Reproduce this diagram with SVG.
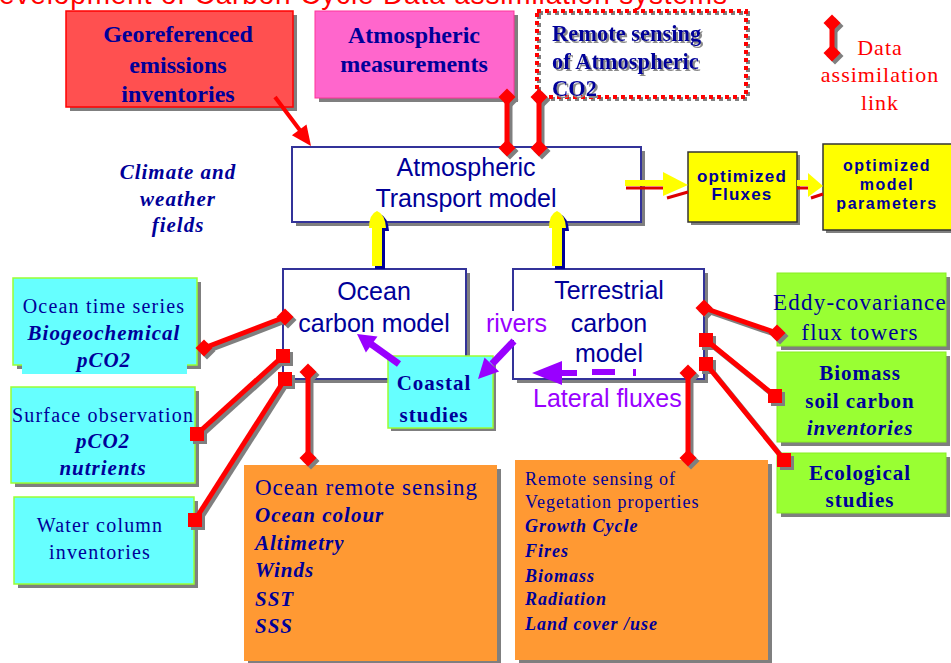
<svg xmlns="http://www.w3.org/2000/svg" width="951" height="663" viewBox="0 0 951 663">
<style>
.sh{fill:#7f7f7f}
.t{fill:#000099;font-family:"Liberation Serif","Times New Roman",serif}
.s{fill:#000099;font-family:"Liberation Sans",Arial,sans-serif}
.b{font-weight:bold}
.i{font-style:italic}
.m{text-anchor:middle}
.wb{fill:#fff;stroke:#333399;stroke-width:2}
.cy{fill:#66ffff;stroke:#99ff33;stroke-width:1.5}
.gr{fill:#99ff33;stroke:#88ee22;stroke-width:1}
.or{fill:#ff9933}
.ye{fill:#ffff00;stroke:#333;stroke-width:1.5}
.pu{fill:#9900ff}
.lk{stroke:#ff0000;stroke-width:5;fill:none}
.lks{stroke:#7f7f7f;stroke-width:5;fill:none}
.d{marker-start:url(#dia);marker-end:url(#dia)}
.ds{marker-start:url(#dias);marker-end:url(#dias)}
.q{marker-start:url(#sq);marker-end:url(#sq)}
.qs{marker-start:url(#sqs);marker-end:url(#sqs)}
.c1{font-size:20px;letter-spacing:1.2px}
.c2{font-size:21px;letter-spacing:1px;font-weight:bold;font-style:italic}
.op{font-size:17px;letter-spacing:1.2px}
.op2{font-size:16px;letter-spacing:1.5px}
</style>
<defs>
<filter id="tsh" x="-5%" y="-5%" width="115%" height="130%"><feDropShadow dx="2" dy="2" stdDeviation="0" flood-color="#8a8a8a"/></filter>
<marker id="dia" viewBox="-9 -9 18 18" refX="0" refY="0" markerWidth="18" markerHeight="18" markerUnits="userSpaceOnUse"><path d="M0,-8.5L8.5,0L0,8.5L-8.5,0Z" fill="#ff0000"/></marker>
<marker id="dias" viewBox="-9 -9 18 18" refX="0" refY="0" markerWidth="18" markerHeight="18" markerUnits="userSpaceOnUse"><path d="M0,-8.5L8.5,0L0,8.5L-8.5,0Z" fill="#7f7f7f"/></marker>
<marker id="sq" viewBox="-8 -8 16 16" refX="0" refY="0" markerWidth="16" markerHeight="16" markerUnits="userSpaceOnUse"><rect x="-7" y="-7" width="14" height="14" fill="#ff0000"/></marker>
<marker id="sqs" viewBox="-8 -8 16 16" refX="0" refY="0" markerWidth="16" markerHeight="16" markerUnits="userSpaceOnUse"><rect x="-7" y="-7" width="14" height="14" fill="#7f7f7f"/></marker>
</defs>
<rect width="951" height="663" fill="#fff"/>

<text id="title" x="-22" y="4" font-family="Liberation Sans, Arial, sans-serif" font-size="28" textLength="749" lengthAdjust="spacing" fill="#ff0000">Development of Carbon Cycle Data assimilation systems</text>

<g id="georef">
<rect class="sh" x="70" y="15" width="227" height="96"/>
<rect x="66" y="11" width="227" height="96" fill="#ff5050" stroke="#ff0000" stroke-width="1.5"/>
<text class="t b m" font-size="24" x="178"><tspan x="178" y="42">Georeferenced</tspan><tspan x="178" y="73">emissions</tspan><tspan x="178" y="102">inventories</tspan></text>
</g>
<g id="atmmeas">
<rect class="sh" x="319" y="15" width="199" height="87"/>
<rect x="315" y="11" width="199" height="87" fill="#ff66cc" stroke="#ff3399" stroke-width="1"/>
<text class="t b m" font-size="24"><tspan x="414" y="43">Atmospheric</tspan><tspan x="414" y="72">measurements</tspan></text>
</g>
<g id="rsatm">
<rect x="539" y="13" width="209" height="86" fill="none" stroke="#7f7f7f" stroke-width="4" stroke-dasharray="4 4"/>
<rect x="537" y="11" width="209" height="86" fill="none" stroke="#ff0000" stroke-width="4" stroke-dasharray="4 4"/>
<text class="t b" font-size="22.5" filter="url(#tsh)"><tspan x="552" y="41">Remote sensing</tspan><tspan x="552" y="69">of Atmospheric</tspan><tspan x="552" y="96">CO2</tspan></text>
</g>
<g id="legend">
<text class="t m" font-size="22" letter-spacing="1" style="fill:#ff0000"><tspan x="880" y="55">Data</tspan><tspan x="880" y="82">assimilation</tspan><tspan x="880" y="110">link</tspan></text>
</g>
<g id="climate">
<text class="t b i m" font-size="21" letter-spacing="1"><tspan x="178" y="179">Climate and</tspan><tspan x="178" y="206">weather</tspan><tspan x="178" y="232">fields</tspan></text>
</g>
<g id="transport">
<rect class="sh" x="296" y="151" width="349" height="75"/>
<rect class="wb" x="292" y="147" width="349" height="75"/>
<text class="s m" font-size="25"><tspan x="466" y="176">Atmospheric</tspan><tspan x="466" y="207">Transport model</tspan></text>
</g>
<g id="optfluxes">
<rect class="sh" x="691" y="155" width="109" height="70"/>
<rect class="ye" x="688" y="152" width="109" height="70"/>
<text class="s b m op"><tspan x="742" y="182">optimized</tspan><tspan x="742" y="200">Fluxes</tspan></text>
</g>
<g id="optparams">
<rect class="sh" x="826" y="147" width="130" height="86"/>
<rect class="ye" x="823" y="144" width="130" height="86"/>
<text class="s b m op2"><tspan x="887" y="171">optimized</tspan><tspan x="887" y="190">model</tspan><tspan x="887" y="209">parameters</tspan></text>
</g>
<g id="ocean">
<rect class="sh" x="287" y="273" width="183" height="110"/>
<rect class="wb" x="283" y="269" width="183" height="110"/>
<text class="s m" font-size="25"><tspan x="374" y="300">Ocean</tspan><tspan x="374" y="332">carbon model</tspan></text>
</g>
<g id="terrestrial">
<rect class="sh" x="517" y="273" width="191" height="110"/>
<rect class="wb" x="513" y="269" width="191" height="110"/>
<text class="s m" font-size="25"><tspan x="609" y="299">Terrestrial</tspan><tspan x="609" y="332">carbon</tspan><tspan x="609" y="362">model</tspan></text>
</g>
<g id="rivers">
<rect x="484" y="311" width="67" height="29" fill="#fff"/>
<text class="s" font-size="25" x="486" y="332" style="fill:#9900ff">rivers</text>
</g>
<g id="lateral">
<text class="s" font-size="25" x="533" y="407" style="fill:#9900ff">Lateral fluxes</text>
</g>
<g id="coastal">
<rect class="sh" x="391" y="359" width="105" height="72"/>
<rect class="cy" x="388" y="356" width="105" height="72"/>
<text class="t b m" font-size="21" letter-spacing="1"><tspan x="434" y="390">Coastal</tspan><tspan x="434" y="422">studies</tspan></text>
</g>
<g id="oceants">
<rect class="sh" x="17" y="282" width="184" height="87"/>
<rect class="cy" x="13" y="278" width="184" height="87"/>
<rect x="22" y="364" width="165" height="10" fill="#66ffff"/>
<text class="t m"><tspan class="c1" x="104" y="313">Ocean time series</tspan><tspan class="c2" x="104" y="340">Biogeochemical</tspan><tspan class="c2" x="104" y="367">pCO2</tspan></text>
</g>
<g id="surfobs">
<rect class="sh" x="15" y="391" width="184" height="96"/>
<rect class="cy" x="11" y="387" width="184" height="96"/>
<text class="t m"><tspan class="c1" x="103" y="422">Surface observation</tspan><tspan class="c2" x="103" y="448">pCO2</tspan><tspan class="c2" x="103" y="475">nutrients</tspan></text>
</g>
<g id="watercol">
<rect class="sh" x="18" y="501" width="180" height="87"/>
<rect class="cy" x="14" y="497" width="180" height="87"/>
<text class="t m c1"><tspan x="100" y="532">Water column</tspan><tspan x="100" y="559">inventories</tspan></text>
</g>
<g id="oceanrs">
<rect class="sh" x="248" y="469" width="253" height="196"/>
<rect class="or" x="244" y="465" width="253" height="196"/>
<text class="t"><tspan x="255" y="495" font-size="23" letter-spacing="1">Ocean remote sensing</tspan><tspan class="c2" x="255" y="522">Ocean colour</tspan><tspan class="c2" x="255" y="550">Altimetry</tspan><tspan class="c2" x="255" y="577">Winds</tspan><tspan class="c2" x="255" y="606">SST</tspan><tspan class="c2" x="255" y="633">SSS</tspan></text>
</g>
<g id="vegrs">
<rect class="sh" x="519" y="464" width="253" height="200"/>
<rect class="or" x="515" y="460" width="253" height="200"/>
<text class="t" font-size="18" letter-spacing="1"><tspan x="525" y="485">Remote sensing of</tspan><tspan x="525" y="508">Vegetation properties</tspan><tspan class="b i" x="525" y="532">Growth Cycle</tspan><tspan class="b i" x="525" y="557">Fires</tspan><tspan class="b i" x="525" y="582">Biomass</tspan><tspan class="b i" x="525" y="605">Radiation</tspan><tspan class="b i" x="525" y="630">Land cover /use</tspan></text>
</g>
<g id="eddy">
<rect class="sh" x="781" y="277" width="169" height="73"/>
<rect class="gr" x="777" y="273" width="169" height="73"/>
<text class="t m" font-size="23" letter-spacing="1.2"><tspan x="860" y="310">Eddy-covariance</tspan><tspan x="860" y="340">flux towers</tspan></text>
</g>
<g id="biomass">
<rect class="sh" x="781" y="356" width="169" height="90"/>
<rect class="gr" x="777" y="352" width="169" height="90"/>
<text class="t b m" font-size="21" letter-spacing="1"><tspan x="860" y="380">Biomass</tspan><tspan x="860" y="408">soil carbon</tspan><tspan class="i" x="860" y="435">inventories</tspan></text>
</g>
<g id="ecological">
<rect class="sh" x="781" y="457" width="169" height="60"/>
<rect class="gr" x="777" y="453" width="169" height="60"/>
<text class="t b m" font-size="21" letter-spacing="1"><tspan x="860" y="480">Ecological</tspan><tspan x="860" y="507">studies</tspan></text>
</g>

<g id="connectors">
<g transform="translate(3,3)">
<path class="lks ds" d="M832,23V53"/>
<path class="lks ds" d="M507,97V148"/>
<path class="lks ds" d="M539,97V148"/>
<path class="lks ds" d="M285,317L204,348"/>
<path class="lks qs" d="M283,356L197,434"/>
<path class="lks qs" d="M285,379L195,520"/>
<path class="lks ds" d="M308,372V458"/>
<path class="lks ds" d="M688,373V458"/>
<path class="lks ds" d="M704,308L777,333"/>
<path class="lks qs" d="M706,340L775,396"/>
<path class="lks qs" d="M706,364L784,460"/>
</g>
<path class="lk d" d="M832,23V53"/>
<path class="lk d" d="M507,97V148"/>
<path class="lk d" d="M539,97V148"/>
<path class="lk d" d="M285,317L204,348"/>
<path class="lk q" d="M283,356L197,434"/>
<path class="lk q" d="M285,379L195,520"/>
<path class="lk d" d="M308,372V458"/>
<path class="lk d" d="M688,373V458"/>
<path class="lk d" d="M704,308L777,333"/>
<path class="lk q" d="M706,340L775,396"/>
<path class="lk q" d="M706,364L784,460"/>

<path d="M275,97L302,133" stroke="#ff0000" stroke-width="4"/>
<polygon points="311,146 291.9,135.2 306.5,124.6" fill="#ff0000"/>

<g fill="#000099">
<rect x="375" y="229" width="10" height="40"/>
<path d="M372,231Q372,217 380,214Q388,217 389,231Z"/>
<rect x="555" y="229" width="10" height="40"/>
<path d="M552,231Q552,217 560,214Q568,217 569,231Z"/>
</g>
<g fill="#ffff00">
<rect x="372" y="226" width="10" height="40"/>
<path d="M369,228Q369,214 377,211Q385,214 386,228Z"/>
<rect x="552" y="226" width="10" height="40"/>
<path d="M549,228Q549,214 557,211Q565,214 566,228Z"/>
</g>

<path d="M626,188H664M667,198L688,192" stroke="#dd0000" stroke-width="3" fill="none"/>
<rect x="625" y="180" width="40" height="6" fill="#ffff00"/>
<polygon points="663,172 688,185 663,196" fill="#ffff00"/>
<path d="M797,188H808M811,198L823,194" stroke="#dd0000" stroke-width="3" fill="none"/>
<rect x="797" y="180" width="12" height="6" fill="#ffff00"/>
<polygon points="808,173 823,186 808,197" fill="#ffff00"/>

<path d="M399,364L371,344" stroke="#9900ff" stroke-width="7"/>
<polygon class="pu" points="357,334 377.5,336.4 365.9,352.6"/>
<path d="M514,341L492,364" stroke="#9900ff" stroke-width="7"/>
<polygon class="pu" points="478,379 499.1,371.4 484.5,357.6"/>
<polygon class="pu" points="532,373 562,361 562,385"/>
<rect class="pu" x="561" y="370" width="16" height="6"/>
<rect class="pu" x="592" y="369" width="23" height="6"/>
<rect class="pu" x="633" y="369" width="3" height="7"/>
</g>
</svg>
